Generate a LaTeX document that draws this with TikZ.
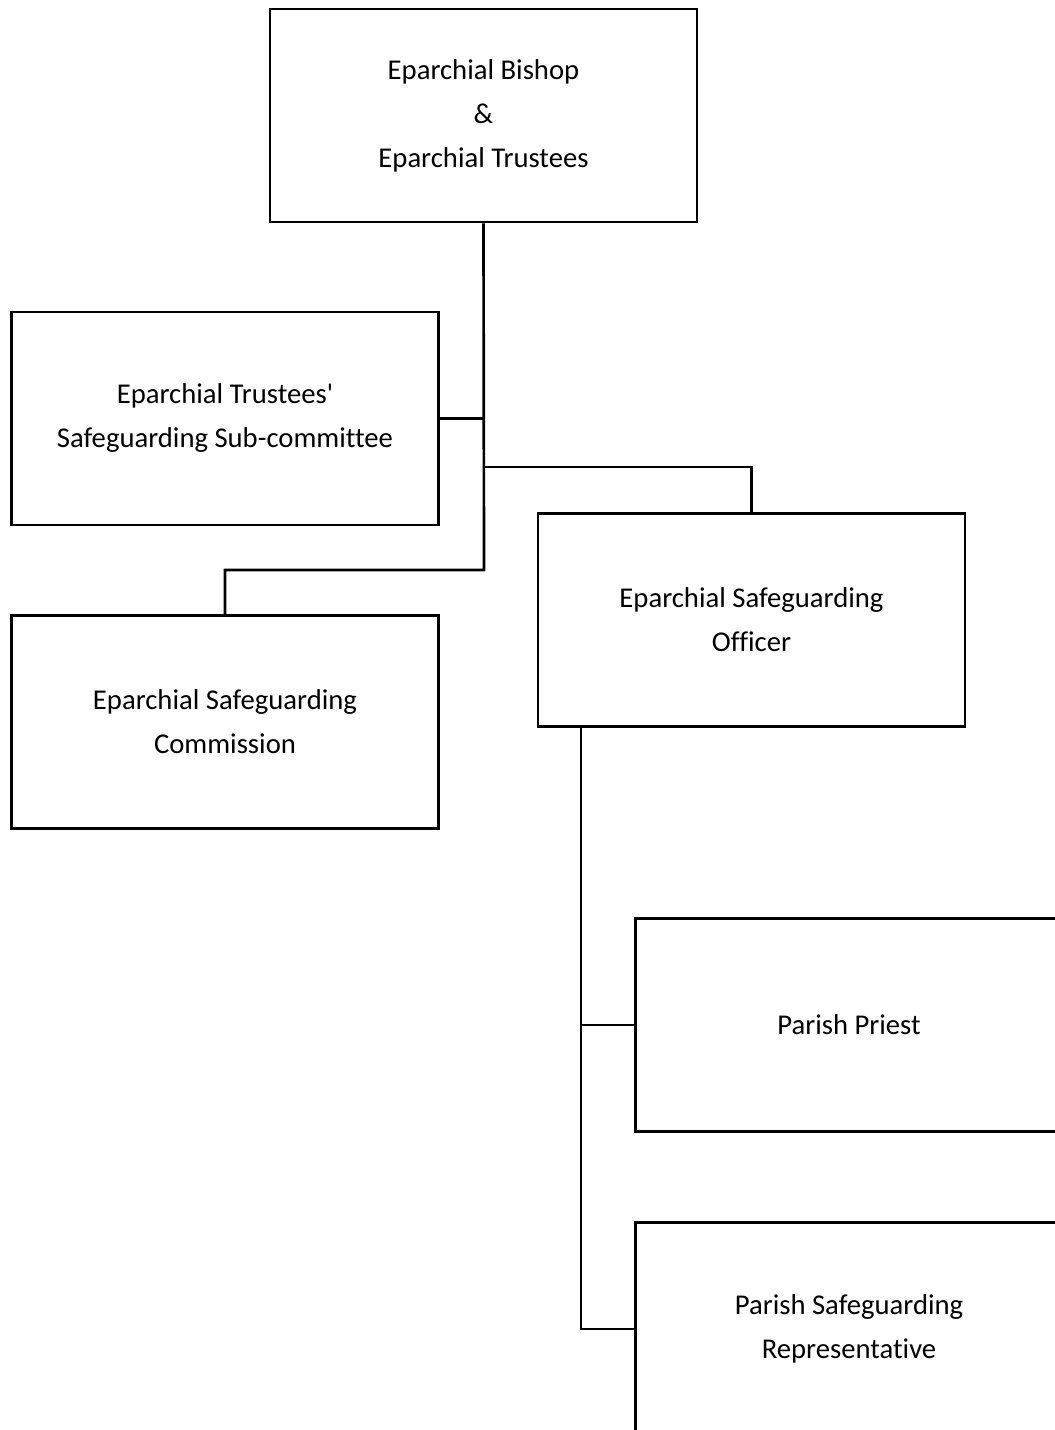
\documentclass[tikz,border=0pt]{standalone}
\usepackage{fontspec}
\setmainfont{Carlito}[Ligatures={NoCommon,TeXOff}]
\begin{document}
\begin{tikzpicture}[x=0.75pt,y=-0.75pt,
  box/.style={draw,line width=2pt,rectangle,minimum width=320.25pt,minimum height=159.75pt,inner sep=0pt,align=center,font=\fontsize{21.5}{33}\selectfont},
  conn/.style={line width=2pt}]
\useasboundingbox (0,0) rectangle (1055,1430);
\clip (0,0) rectangle (1055,1430);
\node[box] (top) at (483.5,115.5) {Eparchial Bishop\\\&\\Eparchial Trustees};
\node[box] (sub) at (225,418.5) {Eparchial Trustees'\\Safeguarding Sub-committee};
\node[box] (com) at (225,722) {Eparchial Safeguarding\\Commission};
\node[box] (eso) at (751.5,620) {Eparchial Safeguarding\\Officer};
\node[box] (pp) at (849,1025) {Parish Priest};
\node[box] (psr) at (849,1329) {Parish Safeguarding\\Representative};
\coordinate (j1) at (484,570);
\coordinate (j2) at (484,467);
\coordinate (e1) at (581,727);
\draw[conn] (top.south) -- (j1) -| (com.north);
\draw[conn] (sub.east) -- (sub.east -| top.south);
\draw[conn] (j2) -| (eso.north);
\draw[conn] (e1) |- (pp.west);
\draw[conn] (e1) |- (psr.west);
\end{tikzpicture}
\end{document}
